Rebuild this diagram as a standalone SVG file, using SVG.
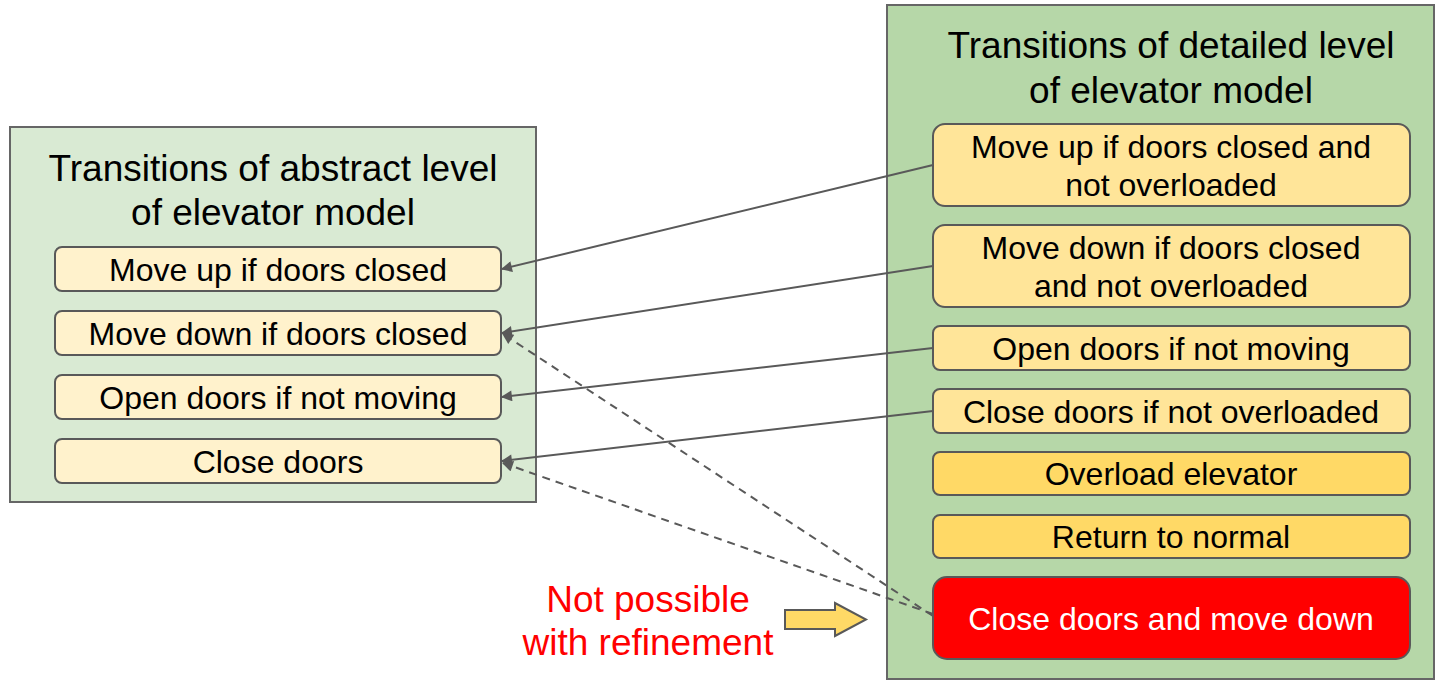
<svg xmlns="http://www.w3.org/2000/svg" width="1441" height="682" viewBox="0 0 1441 682">
  <style>
    text { font-family: "Liberation Sans", Arial, sans-serif; fill: #000; text-anchor: middle; }
    .title { font-size: 37px; }
    .lbl { font-size: 32px; }
    .panel { stroke: #666; stroke-width: 2; }
    .box { stroke: #595959; stroke-width: 2; }
    .abs { fill: #fff2cc; }
    .det { fill: #ffe599; }
    .ev { fill: #ffd966; }
    .bad { fill: #ff0000; }
    .white { fill: #fff; }
    .note { font-size: 37px; fill: #ff0000; }
    .edge { stroke: #595959; stroke-width: 2; fill: none; marker-end: url(#head); }
    .dash { stroke-dasharray: 8 6; }
  </style>
  <defs>
    <marker id="head" viewBox="0 0 10 10" refX="9" refY="5" markerWidth="13" markerHeight="11" markerUnits="userSpaceOnUse" orient="auto">
      <path d="M0,0 L10,5 L0,10 z" fill="#595959"/>
    </marker>
  </defs>

  <rect width="1441" height="682" fill="#fff"/>

  <!-- abstract level panel -->
  <g id="abstract-panel">
    <rect class="panel" x="10" y="127" width="526" height="375" fill="#d9ead3"/>
    <text class="title" x="273" y="181">Transitions of abstract level</text>
    <text class="title" x="273" y="225">of elevator model</text>
  </g>
  <g id="a-move-up">
    <rect class="box abs" x="55" y="247" width="446" height="44" rx="7"/>
    <text class="lbl" x="278" y="281">Move up if doors closed</text>
  </g>
  <g id="a-move-down">
    <rect class="box abs" x="55" y="311" width="446" height="44" rx="7"/>
    <text class="lbl" x="278" y="345">Move down if doors closed</text>
  </g>
  <g id="a-open">
    <rect class="box abs" x="55" y="375" width="446" height="44" rx="7"/>
    <text class="lbl" x="278" y="409">Open doors if not moving</text>
  </g>
  <g id="a-close">
    <rect class="box abs" x="55" y="439" width="446" height="44" rx="7"/>
    <text class="lbl" x="278" y="473">Close doors</text>
  </g>

  <!-- detailed level panel -->
  <g id="detailed-panel">
    <rect class="panel" x="887" y="5" width="547" height="674" fill="#b6d7a8"/>
    <text class="title" x="1171" y="58">Transitions of detailed level</text>
    <text class="title" x="1171" y="103">of elevator model</text>
  </g>
  <g id="d-move-up">
    <rect class="box det" x="933" y="124" width="477" height="82" rx="12"/>
    <text class="lbl" x="1171" y="158">Move up if doors closed and</text>
    <text class="lbl" x="1171" y="196">not overloaded</text>
  </g>
  <g id="d-move-down">
    <rect class="box det" x="933" y="225" width="477" height="82" rx="12"/>
    <text class="lbl" x="1171" y="259">Move down if doors closed</text>
    <text class="lbl" x="1171" y="297">and not overloaded</text>
  </g>
  <g id="d-open">
    <rect class="box det" x="933" y="326" width="477" height="44" rx="7"/>
    <text class="lbl" x="1171" y="360">Open doors if not moving</text>
  </g>
  <g id="d-close">
    <rect class="box det" x="933" y="389" width="477" height="44" rx="7"/>
    <text class="lbl" x="1171" y="423">Close doors if not overloaded</text>
  </g>
  <g id="d-overload">
    <rect class="box ev" x="933" y="452" width="477" height="43" rx="7"/>
    <text class="lbl" x="1171" y="485">Overload elevator</text>
  </g>
  <g id="d-normal">
    <rect class="box ev" x="933" y="515" width="477" height="43" rx="7"/>
    <text class="lbl" x="1171" y="548">Return to normal</text>
  </g>
  <g id="d-close-move">
    <rect class="box bad" x="933" y="577" width="477" height="82" rx="14"/>
    <text class="lbl white" x="1171" y="630">Close doors and move down</text>
  </g>

  <!-- note with block arrow -->
  <g id="note">
    <text class="note" x="648" y="612">Not possible</text>
    <text class="note" x="648" y="655">with refinement</text>
    <path d="M785,610 L835,610 L835,603 L866,619.5 L835,636 L835,629 L785,629 Z" fill="#ffd966" stroke="#595959" stroke-width="2" stroke-linejoin="miter"/>
  </g>

  <!-- refinement connectors -->
  <g id="connectors">
    <line class="edge" x1="933" y1="165" x2="502" y2="269"/>
    <line class="edge" x1="933" y1="266" x2="502" y2="333"/>
    <line class="edge" x1="933" y1="348" x2="502" y2="397"/>
    <line class="edge" x1="933" y1="411" x2="502" y2="461"/>
    <line class="edge dash" x1="933" y1="616" x2="503" y2="334"/>
    <line class="edge dash" x1="933" y1="614" x2="503" y2="463"/>
  </g>
</svg>
